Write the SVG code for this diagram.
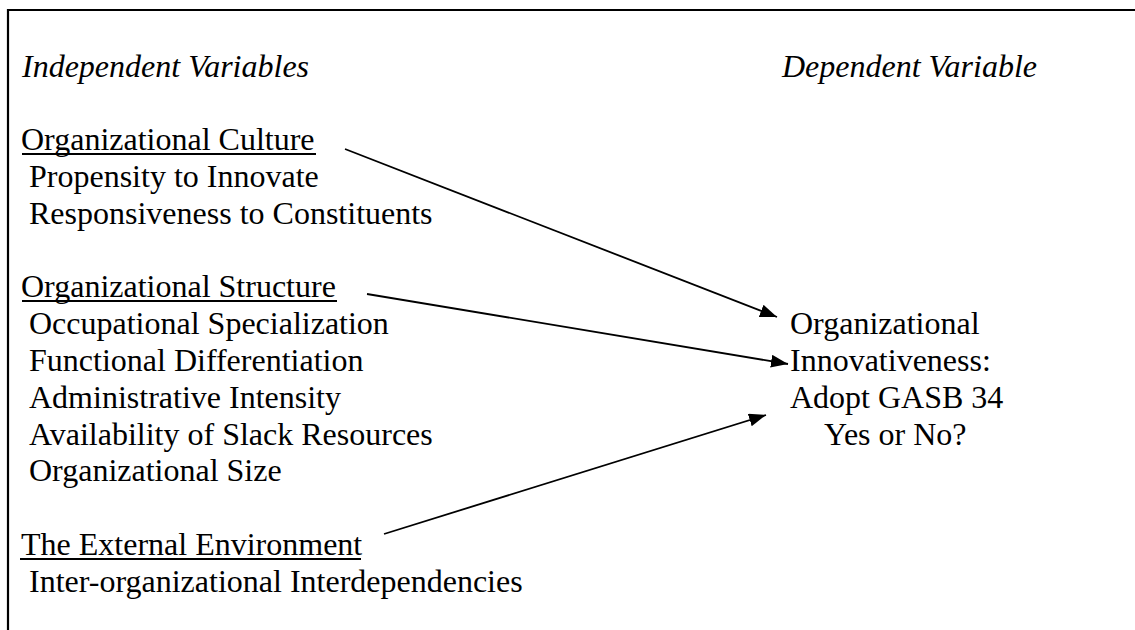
<svg xmlns="http://www.w3.org/2000/svg" width="1135" height="630" viewBox="0 0 1135 630">
  <style>
    text { font-family: "Liberation Serif", "Times New Roman", serif; font-size: 32px; fill: #000; }
    .title { font-style: italic; }
    .frame { stroke: #000; stroke-width: 2.2; fill: none; }
    .uline { stroke: #000; stroke-width: 1.8; }
    .link { stroke: #000; stroke-width: 1.8; fill: none; marker-end: url(#head); }
  </style>
  <defs>
    <marker id="head" markerUnits="userSpaceOnUse" markerWidth="18" markerHeight="14" refX="17" refY="6.5" orient="auto">
      <path d="M0,0 L17,6.5 L0,13 z" fill="#000"/>
    </marker>
  </defs>

  <rect width="1135" height="630" fill="#fff"/>

  <!-- open frame: top rule and left rule -->
  <g id="frame">
    <line class="frame" x1="8" y1="10" x2="1135" y2="10"/>
    <line class="frame" x1="8" y1="9" x2="8" y2="630"/>
  </g>

  <!-- column headings -->
  <g id="heading-independent">
    <text class="title" x="22" y="77">Independent Variables</text>
  </g>
  <g id="heading-dependent">
    <text class="title" x="782" y="77">Dependent Variable</text>
  </g>

  <!-- independent variable groups -->
  <g id="culture">
    <text x="21" y="150">Organizational Culture</text>
    <line class="uline" x1="22" y1="154" x2="316" y2="154"/>
    <text x="29" y="187">Propensity to Innovate</text>
    <text x="29" y="224">Responsiveness to Constituents</text>
  </g>

  <g id="structure">
    <text x="21" y="297">Organizational Structure</text>
    <line class="uline" x1="22" y1="301" x2="337" y2="301"/>
    <text x="29" y="334">Occupational Specialization</text>
    <text x="29" y="371">Functional Differentiation</text>
    <text x="29" y="408">Administrative Intensity</text>
    <text x="29" y="445">Availability of Slack Resources</text>
    <text x="29" y="481">Organizational Size</text>
  </g>

  <g id="environment">
    <text x="21" y="555">The External Environment</text>
    <line class="uline" x1="20" y1="559" x2="361" y2="559"/>
    <text x="29" y="592">Inter-organizational Interdependencies</text>
  </g>

  <!-- dependent variable -->
  <g id="innovativeness">
    <text x="790" y="334">Organizational</text>
    <text x="790" y="371">Innovativeness:</text>
    <text x="790" y="408">Adopt GASB 34</text>
    <text x="824" y="445">Yes or No?</text>
  </g>

  <!-- connectors -->
  <g id="connectors">
    <line class="link" x1="345" y1="149" x2="777" y2="317"/>
    <line class="link" x1="367" y1="294" x2="788" y2="364"/>
    <line class="link" x1="384" y1="534" x2="766" y2="415"/>
  </g>
</svg>
